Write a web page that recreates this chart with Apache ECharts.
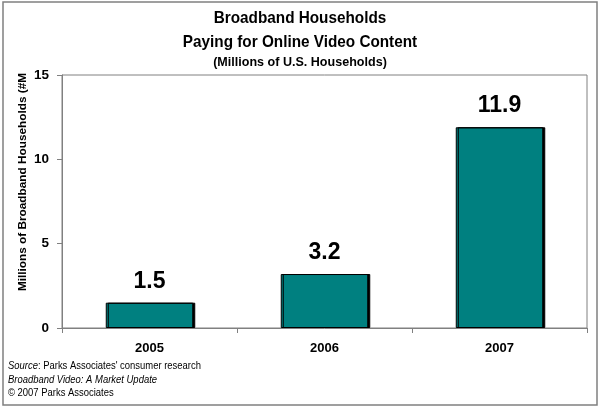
<!DOCTYPE html>
<html><head><meta charset="utf-8">
<script src="https://cdn.jsdelivr.net/npm/echarts@6/dist/echarts.min.js"></script>
<style>html,body{margin:0;padding:0;background:#fff}#c{width:600px;height:408px}</style>
</head><body><div id="c"></div>
<script>
var categories = ['2005', '2006', '2007'];
var values = [1.5, 3.2, 11.9];
var yTicks = [0, 5, 10, 15];
var titleLines = ['Broadband Households', 'Paying for Online Video Content'];
var subtitle = '(Millions of U.S. Households)';
var yName = 'Millions of Broadband Households (#M';
var notes = ['Parks Associates\' consumer research', 'Broadband Video: A Market Update', '\u00A9 2007 Parks Associates'];

var F = '"Liberation Sans", Arial, sans-serif';
var chart = echarts.init(document.getElementById('c'), null, {renderer: 'canvas'});
function ctext(t, y, size, sx) {
  return {type: 'text', x: 300, y: y, scaleX: sx, silent: true,
    style: {text: t, x: 0, y: 0, align: 'center', verticalAlign: 'middle', fontFamily: F, fontSize: size, fontWeight: 'bold', fill: '#000'}};
}
function ntext(t, y, italic) {
  return {type: 'text', x: 8, y: y, scaleX: 0.9, silent: true,
    style: {text: t, x: 0, y: 0, align: 'left', verticalAlign: 'middle', fontFamily: F, fontSize: 10.5, fontStyle: italic ? 'italic' : 'normal', fill: '#000'}};
}
chart.setOption({
  animation: false,
  backgroundColor: '#fff',
  graphic: [
    {type: 'rect', shape: {x: 3, y: 2, width: 594, height: 403}, style: {fill: 'none', stroke: '#808080', lineWidth: 1.5}, silent: true, z: -1},
    ctext(titleLines[0], 18, 17, 0.9),
    ctext(titleLines[1], 42, 17, 0.9),
    ctext(subtitle, 62, 13.5, 0.93),
    {type: 'text', x: 8, y: 366, scaleX: 0.9, silent: true,
      style: {x: 0, y: 0, verticalAlign: 'middle', text: '{i|Source}{n|: ' + notes[0] + '}',
        rich: {i: {fontFamily: F, fontSize: 10.5, fontStyle: 'italic', fill: '#000'}, n: {fontFamily: F, fontSize: 10.5, fill: '#000'}}}},
    ntext(notes[1], 380, true),
    ntext(notes[2], 393, false),
    {type: 'text', x: 23, y: 182, rotation: Math.PI / 2, silent: true,
      style: {text: yName, x: 0, y: 0, align: 'center', verticalAlign: 'middle', fontFamily: F, fontSize: 11.8, fontWeight: 'bold', fill: '#000'}}
  ],
  grid: {left: 62, right: 13, top: 75, bottom: 80, show: true, borderColor: '#808080', borderWidth: 1, backgroundColor: '#fff'},
  xAxis: {
    type: 'category', data: categories,
    axisLine: {lineStyle: {color: '#808080', width: 1}},
    axisTick: {show: true, length: 5, lineStyle: {color: '#808080'}},
    axisLabel: {fontFamily: F, fontSize: 13, fontWeight: 'bold', color: '#000', margin: 14}
  },
  yAxis: {
    type: 'value', min: yTicks[0], max: yTicks[yTicks.length - 1], interval: 5,
    axisLine: {show: true, lineStyle: {color: '#808080', width: 1}},
    axisTick: {show: true, length: 5, lineStyle: {color: '#808080'}},
    splitLine: {show: false},
    axisLabel: {fontFamily: F, fontSize: 13.5, fontWeight: 'bold', color: '#000', margin: 13}
  },
  series: [{
    type: 'bar', data: values, barWidth: '50%',
    itemStyle: {color: '#008080', borderColor: '#000', borderWidth: 1, shadowColor: '#000', shadowOffsetX: 2, shadowOffsetY: 0, shadowBlur: 0},
    label: {show: true, position: 'top', distance: 10, fontFamily: F, fontSize: 23, fontWeight: 'bold', color: '#000'}
  }]
});
</script></body></html>
